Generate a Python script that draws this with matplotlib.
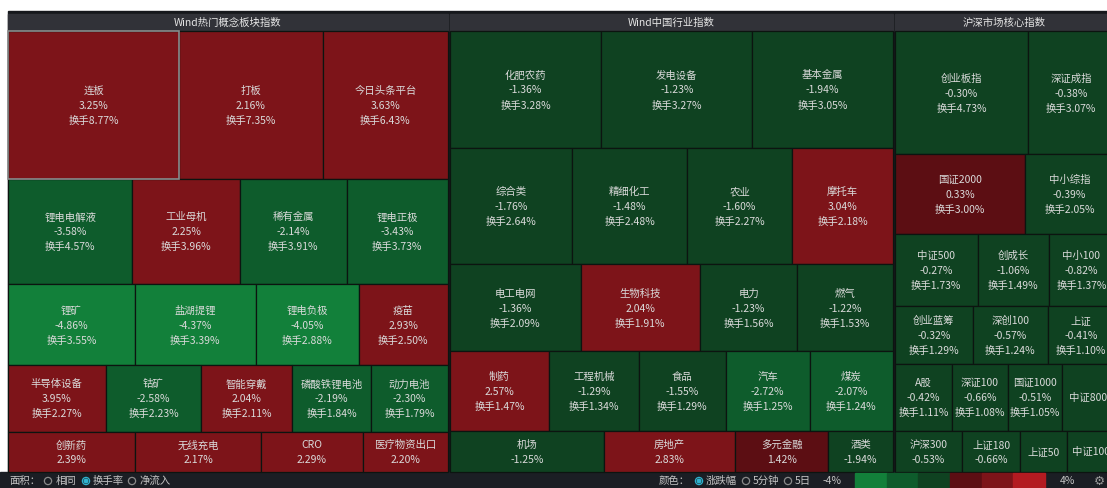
"""Wind 板块热力图 — treemap recreation (area = 换手率, colour = 涨跌幅)."""

import matplotlib
matplotlib.use("Agg")
import matplotlib.pyplot as plt
from matplotlib.patches import Rectangle, Circle

plt.rcParams["font.family"] = ["Noto Sans CJK SC", "DejaVu Sans"]

# ---- data -----------------------------------------------------------------
concept_names = ["连板", "打板", "今日头条平台",
                 "锂电电解液", "工业母机", "稀有金属", "锂电正极",
                 "锂矿", "盐湖提锂", "锂电负极", "疫苗",
                 "半导体设备", "钴矿", "智能穿戴", "磷酸铁锂电池", "动力电池",
                 "创新药", "无线充电", "CRO", "医疗物资出口"]
concept_chg = [3.25, 2.16, 3.63,
               -3.58, 2.25, -2.14, -3.43,
               -4.86, -4.37, -4.05, 2.93,
               3.95, -2.58, 2.04, -2.19, -2.30,
               2.39, 2.17, 2.29, 2.20]
concept_turn = [8.77, 7.35, 6.43,
                4.57, 3.96, 3.91, 3.73,
                3.55, 3.39, 2.88, 2.50,
                2.27, 2.23, 2.11, 1.84, 1.79,
                1.77, 1.76, 1.41, 1.19]
concept_rows = [3, 4, 4, 5, 4]

industry_names = ["化肥农药", "发电设备", "基本金属",
                  "综合类", "精细化工", "农业", "摩托车",
                  "电工电网", "生物科技", "电力", "燃气",
                  "制药", "工程机械", "食品", "汽车", "煤炭",
                  "机场", "房地产", "多元金融", "酒类"]
industry_chg = [-1.36, -1.23, -1.94,
                -1.76, -1.48, -1.60, 3.04,
                -1.36, 2.04, -1.23, -1.22,
                2.57, -1.29, -1.55, -2.72, -2.07,
                -1.25, 2.83, 1.42, -1.94]
industry_turn = [3.28, 3.27, 3.05,
                 2.64, 2.48, 2.27, 2.18,
                 2.09, 1.91, 1.56, 1.53,
                 1.47, 1.34, 1.29, 1.25, 1.24,
                 1.17, 0.99, 0.71, 0.49]
industry_rows = [3, 4, 4, 5, 4]

index_names = ["创业板指", "深证成指",
               "国证2000", "中小综指",
               "中证500", "创成长", "中小100",
               "创业蓝筹", "深创100", "上证",
               "A股", "深证100", "国证1000", "中证800",
               "沪深300", "上证180", "上证50", "中证100"]
index_chg = [-0.30, -0.38,
             0.33, -0.39,
             -0.27, -1.06, -0.82,
             -0.32, -0.57, -0.41,
             -0.42, -0.66, -0.51, -0.48,
             -0.53, -0.66, -0.70, -0.60]
index_turn = [4.73, 3.07,
              3.00, 2.05,
              1.73, 1.49, 1.37,
              1.29, 1.24, 1.10,
              1.11, 1.08, 1.05, 1.01,
              0.80, 0.69, 0.56, 0.56]
index_rows = [2, 2, 3, 3, 4, 4]

panel_titles = ["Wind热门概念板块指数", "Wind中国行业指数", "沪深市场核心指数"]

# colour scale (-4% .. 4%), six steps as in the legend
scale_colors = ["#12803a", "#0e5c2c", "#0f4221", "#5c0e13", "#7d1419", "#b31b21"]


def chg_color(v):
    if v <= -4:
        return scale_colors[0]
    if v <= -2:
        return scale_colors[1]
    if v < 0:
        return scale_colors[2]
    if v < 2:
        return scale_colors[3]
    if v < 4:
        return scale_colors[4]
    return scale_colors[5]


def row_layout(values, rows, x0, x1, y0, y1):
    """Horizontal strips: strip height ~ strip sum, width ~ value."""
    total = sum(values)
    rects, i, y = [], 0, y0
    for n in rows:
        vals = values[i:i + n]
        h = (y1 - y0) * sum(vals) / total
        x = x0
        for v in vals:
            w = (x1 - x0) * v / sum(vals)
            rects.append((x, y, w, h))
            x += w
        y += h
        i += n
    return rects


# ---- figure ---------------------------------------------------------------
W, H = 1107, 488
fig = plt.figure(figsize=(W / 100, H / 100), dpi=100)
ax = fig.add_axes([0, 0, 1, 1])
ax.set_xlim(0, W)
ax.set_ylim(H, 0)
ax.axis("off")
fig.patch.set_facecolor("white")

# dark body
ax.add_patch(Rectangle((8, 11), W - 8, H - 11, color="#16181c", zorder=0))

panels = [(8, 448), (450, 893), (895, 1114)]
top, bottom = 31, 472
datasets = [(concept_names, concept_chg, concept_turn, concept_rows),
            (industry_names, industry_chg, industry_turn, industry_rows),
            (index_names, index_chg, index_turn, index_rows)]

txt_color = "#dadada"
for (px0, px1), title, (names, chg, turn, rows) in zip(panels, panel_titles, datasets):
    # header
    ax.add_patch(Rectangle((px0, 14), px1 - px0, 16.5, color="#313238", zorder=1))
    ax.text((px0 + px1) / 2, 22.5, title, ha="center", va="center",
            fontsize=7.5, color="#e6e6e6", zorder=5)

    rects = row_layout(turn, rows, px0, px1, top, bottom)
    for (x, y, w, h), name, c, t in zip(rects, names, chg, turn):
        ax.add_patch(Rectangle((x, y), w, h, facecolor=chg_color(c),
                               edgecolor="#0c1410", linewidth=0.9, zorder=2))
        cx, cy = x + w / 2, y + h / 2
        if w < 53:
            lines = [name]
        elif h < 50:
            lines = [name, f"{c:.2f}%"]
        else:
            lines = [name, f"{c:.2f}%", f"换手{t:.2f}%"]
        n = len(lines)
        for j, s in enumerate(lines):
            ax.text(cx, cy + (j - (n - 1) / 2) * 15 + 1, s, ha="center", va="center",
                    fontsize=7.5, color=txt_color, zorder=5, clip_on=True)

# hover outline on the first concept tile
first = row_layout(concept_turn, concept_rows, 8, 448, top, bottom)[0]
ax.add_patch(Rectangle(first[:2], first[2], first[3], fill=False,
                       edgecolor="#8c8c8c", linewidth=1.2, zorder=4))

# ---- bottom control bar -----------------------------------------------------
ax.add_patch(Rectangle((0, 472), W, 16, color="#1b1e24", zorder=1))
by = 481
bar_txt = "#c4c4c4"
sel = "#2fb4d0"


def radio(x, on):
    ax.add_patch(Circle((x, by), 3.6, fill=False, edgecolor=sel if on else "#8a8a8a",
                        linewidth=0.9, zorder=6))
    if on:
        ax.add_patch(Circle((x, by), 1.8, color=sel, zorder=6))


ax.text(9, by, "面积：", ha="left", va="center", fontsize=7.5, color=bar_txt, zorder=6)
radio(48, False)
ax.text(56, by, "相同", ha="left", va="center", fontsize=7.5, color=bar_txt, zorder=6)
radio(86, True)
ax.text(93, by, "换手率", ha="left", va="center", fontsize=7.5, color=bar_txt, zorder=6)
radio(132, False)
ax.text(139, by, "净流入", ha="left", va="center", fontsize=7.5, color=bar_txt, zorder=6)

ax.text(659, by, "颜色：", ha="left", va="center", fontsize=7.5, color=bar_txt, zorder=6)
radio(699, True)
ax.text(706, by, "涨跌幅", ha="left", va="center", fontsize=7.5, color=bar_txt, zorder=6)
radio(746, False)
ax.text(753, by, "5分钟", ha="left", va="center", fontsize=7.5, color=bar_txt, zorder=6)
radio(788, False)
ax.text(795, by, "5日", ha="left", va="center", fontsize=7.5, color=bar_txt, zorder=6)
ax.text(832, by, "-4%", ha="center", va="center", fontsize=7.5, color=bar_txt, zorder=6)

cb_x0, cb_w = 855, 190
for k, col in enumerate(scale_colors):
    ax.add_patch(Rectangle((cb_x0 + k * cb_w / len(scale_colors), 473),
                           cb_w / len(scale_colors), 15, color=col, zorder=6))
ax.text(1068, by, "4%", ha="center", va="center", fontsize=7.5, color=bar_txt, zorder=6)
ax.text(1099, by, "⚙", ha="center", va="center", fontsize=9, color="#9a9a9a",
        family="DejaVu Sans", zorder=6)

fig.savefig("out.png", dpi=100, facecolor=fig.get_facecolor())
